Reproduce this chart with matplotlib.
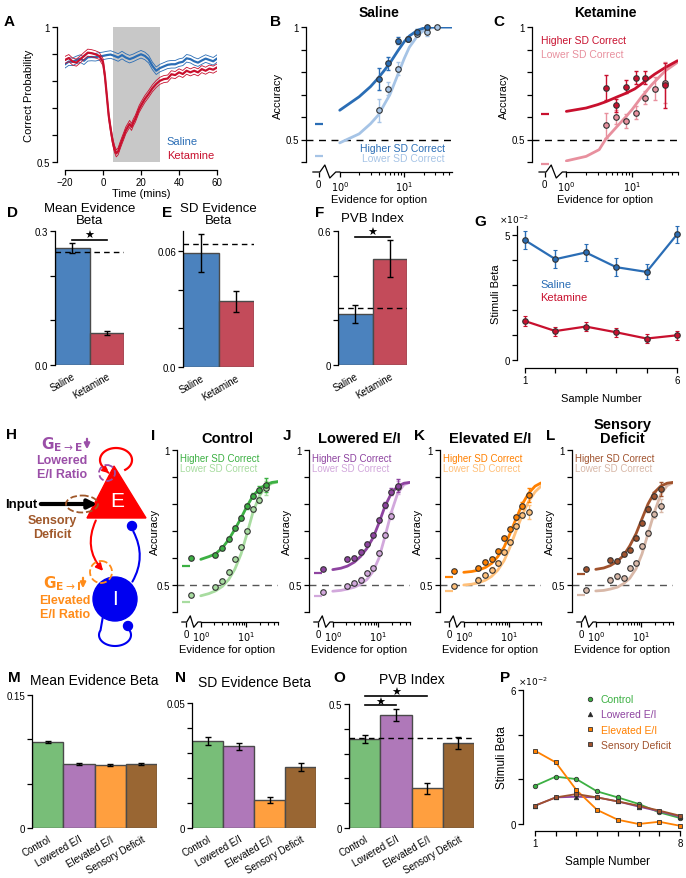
import numpy as np
import matplotlib
matplotlib.use('Agg')
import matplotlib.pyplot as plt
import matplotlib.transforms as mtransforms
from matplotlib.patches import Polygon, Circle, Ellipse, FancyArrowPatch
from matplotlib.lines import Line2D

plt.rcParams['font.family'] = ['Liberation Sans', 'DejaVu Sans']
plt.rcParams['font.size'] = 7.5
plt.rcParams['axes.linewidth'] = 0.9
plt.rcParams['xtick.direction'] = 'out'
plt.rcParams['ytick.direction'] = 'out'

# ---------------- data ----------------
# A: correct probability over time
A_sal_t = list(range(-20, 61, 2))
A_sal = [0.862, 0.872, 0.871, 0.878, 0.883, 0.875, 0.888, 0.889, 0.888, 0.891, 0.893,
         0.896, 0.898, 0.893, 0.887, 0.896, 0.887, 0.881, 0.886, 0.893, 0.899, 0.893,
         0.881, 0.856, 0.838, 0.848, 0.854, 0.860, 0.862, 0.862, 0.868, 0.871, 0.884,
         0.881, 0.873, 0.868, 0.876, 0.883, 0.878, 0.873, 0.883]
A_sal_sem = 0.014
A_ket_t = [-20, -18, -16, -14, -12, -10, -8, -6, -4, -2, 0, 1, 2, 3, 4, 5, 6, 7, 8, 9, 10,
           11, 12, 13, 14, 15, 16, 17, 18, 19, 20, 22, 24, 26, 28, 30, 32, 34, 36, 38, 40,
           42, 44, 46, 48, 50, 52, 54, 56, 58, 60]
A_ket = [0.878, 0.885, 0.872, 0.868, 0.880, 0.893, 0.905, 0.903, 0.899, 0.893, 0.870,
         0.819, 0.746, 0.672, 0.623, 0.580, 0.549, 0.532, 0.540, 0.561, 0.580, 0.598,
         0.617, 0.629, 0.641, 0.630, 0.647, 0.660, 0.678, 0.696, 0.709, 0.733, 0.752,
         0.773, 0.789, 0.801, 0.807, 0.809, 0.825, 0.822, 0.832, 0.826, 0.838, 0.832,
         0.838, 0.832, 0.844, 0.838, 0.846, 0.842, 0.850]
A_ket_sem = 0.013
A_window = (5, 30)

# B / C: psychometric curves (ketamine study)
B_hi_x = [4, 5.7, 8, 11.3, 16, 22.6]
B_hi = [0.768, 0.838, 0.94, 0.946, 0.98, 1.0]
B_hi_err = [0.05, 0.03, 0.015, 0.01, 0.01, 0.005]
B_lo_x = [4, 5.7, 8, 11.3, 16, 22.6, 32]
B_lo = [0.63, 0.726, 0.815, 0.946, 0.97, 0.976, 1.0]
B_lo_err = [0.05, 0.03, 0.03, 0.01, 0.01, 0.015, 0.005]
B_fit_x = [1, 2, 3, 4, 5, 6, 8, 10, 12, 16, 20, 25, 32, 40, 55]
B_fit_hi = [0.63, 0.69, 0.735, 0.775, 0.81, 0.84, 0.895, 0.935, 0.96, 0.985, 0.995, 1.0, 1.0, 1.0, 1.0]
B_fit_lo = [0.485, 0.525, 0.57, 0.61, 0.66, 0.70, 0.79, 0.86, 0.91, 0.96, 0.985, 0.995, 1.0, 1.0, 1.0]
B_zero = (0.571, 0.428)

C_hi_x = [4, 5.7, 8, 11.3, 16, 32]
C_hi = [0.73, 0.652, 0.735, 0.775, 0.775, 0.742]
C_hi_err = [0.055, 0.03, 0.03, 0.03, 0.03, 0.1]
C_lo_x = [4, 5.7, 8, 11.3, 16, 22.6, 32]
C_lo = [0.5625, 0.60, 0.582, 0.62, 0.686, 0.726, 0.753]
C_lo_err = [0.055, 0.03, 0.03, 0.03, 0.03, 0.05, 0.09]
C_fit_hi_x = [1, 2, 3, 4, 6, 8, 11, 16, 22, 32, 49]
C_fit_hi = [0.625, 0.64, 0.655, 0.668, 0.69, 0.705, 0.725, 0.76, 0.79, 0.82, 0.85]
C_fit_lo_x = [1, 2, 3.16, 4, 6, 8, 10, 14, 20, 32, 49]
C_fit_lo = [0.405, 0.425, 0.455, 0.503, 0.56, 0.60, 0.633, 0.69, 0.744, 0.805, 0.843]
C_zero = (0.612, 0.39)

# D / E / F: regression betas
drug_labels = ['Saline', 'Ketamine']
D_vals = [0.262, 0.072]
D_err = [0.012, 0.004]
D_ref = 0.253
E_vals = [0.059, 0.034]
E_err = [0.0097, 0.0053]
E_ref = 0.0639
F_vals = [0.228, 0.475]
F_err = [0.04, 0.083]
F_ref = 0.255

# G: stimuli beta per sample
G_samples = [1, 2, 3, 4, 5, 6]
G_sal = [0.048, 0.0404, 0.0431, 0.0372, 0.0353, 0.0503]
G_sal_err = [0.0037, 0.0035, 0.0035, 0.0035, 0.003, 0.0035]
G_ket = [0.0156, 0.0116, 0.0134, 0.0111, 0.0086, 0.0099]
G_ket_err = [0.002, 0.0018, 0.0018, 0.0018, 0.0018, 0.0018]

# I-L: model psychometric curves
ev_x = [2.1, 3.0, 4.1, 5.6, 7.7, 10.4, 14.1, 19.5, 26.8]
fit_x = [1.0, 1.5, 2.1, 3, 4.1, 5.6, 7.7, 10.4, 14.1, 19.5, 26.8, 37, 50]
I_hi = [0.612, 0.637, 0.671, 0.711, 0.748, 0.791, 0.831, 0.853, 0.87]
I_lo = [0.491, 0.516, 0.547, 0.596, 0.64, 0.70, 0.78, 0.815, 0.86]
I_fit_hi = [0.595, 0.605, 0.615, 0.638, 0.668, 0.706, 0.748, 0.792, 0.83, 0.856, 0.872, 0.88, 0.883]
I_fit_lo = [0.46, 0.468, 0.478, 0.495, 0.52, 0.558, 0.615, 0.69, 0.77, 0.83, 0.863, 0.877, 0.882]
I_zero = (0.60, 0.463, 0.57, 0.437)
J_hi = [0.596, 0.60, 0.623, 0.652, 0.686, 0.742, 0.796, 0.846, 0.868]
J_lo = [0.497, 0.506, 0.52, 0.544, 0.563, 0.618, 0.686, 0.757, 0.862]
J_fit_hi = [0.557, 0.562, 0.57, 0.585, 0.606, 0.635, 0.675, 0.73, 0.792, 0.84, 0.866, 0.877, 0.88]
J_fit_lo = [0.477, 0.48, 0.485, 0.492, 0.503, 0.52, 0.55, 0.6, 0.68, 0.77, 0.84, 0.872, 0.88]
J_zero = (0.559, 0.473, 0.544, 0.458)
K_hi = [0.562, 0.586, 0.596, 0.625, 0.674, 0.707, 0.751, 0.794, 0.833]
K_lo = [0.52, 0.538, 0.557, 0.581, 0.621, 0.66, 0.72, 0.76, 0.77]
K_fit_hi = [0.547, 0.55, 0.555, 0.565, 0.58, 0.605, 0.64, 0.69, 0.745, 0.80, 0.84, 0.866, 0.878]
K_fit_lo = [0.50, 0.503, 0.508, 0.518, 0.532, 0.555, 0.59, 0.64, 0.70, 0.76, 0.81, 0.845, 0.866]
K_zero = (0.551, 0.495, 0.528, 0.477)
L_hi = [0.593, 0.59, 0.615, 0.63, 0.674, 0.73, 0.781, 0.831, 0.856]
L_lo = [0.52, 0.532, 0.525, 0.562, 0.581, 0.643, 0.693, 0.762, 0.794]
L_fit_hi = [0.558, 0.563, 0.572, 0.588, 0.61, 0.645, 0.69, 0.745, 0.80, 0.843, 0.866, 0.877, 0.88]
L_fit_lo = [0.478, 0.48, 0.485, 0.492, 0.505, 0.525, 0.56, 0.615, 0.69, 0.77, 0.835, 0.868, 0.879]
L_zero = (0.559, 0.483, 0.54, 0.464)
model_err = [0.008, 0.008, 0.008, 0.008, 0.008, 0.008, 0.01, 0.012, 0.025]

# M / N / O: model betas
cond_labels = ['Control', 'Lowered E/I', 'Elevated E/I', 'Sensory Deficit']
M_vals = [0.097, 0.072, 0.0709, 0.072]
M_err = [0.001, 0.001, 0.001, 0.001]
N_vals = [0.0347, 0.0327, 0.0112, 0.0245]
N_err = [0.0016, 0.0014, 0.0013, 0.0016]
O_vals = [0.358, 0.456, 0.16, 0.342]
O_err = [0.017, 0.025, 0.023, 0.024]
O_ref = 0.361

# P: model stimuli beta per sample
P_samples = [1, 2, 3, 4, 5, 6, 7, 8]
P_control = [0.0171, 0.0212, 0.0201, 0.0146, 0.0119, 0.0090, 0.0052, 0.0027]
P_lowered = [0.0082, 0.0119, 0.0122, 0.0119, 0.0101, 0.0078, 0.0057, 0.0033]
P_elevated = [0.0328, 0.0276, 0.0152, 0.0063, 0.0019, 0.0, 0.0010, -0.0008]
P_sensory = [0.0082, 0.0119, 0.0134, 0.0119, 0.0101, 0.0082, 0.0060, 0.0037]

# ---------------- colours ----------------
sal_c, sal_light = '#2a6db5', '#a6c4e6'
ket_c, ket_light = '#c8102e', '#e8909e'
bar_sal, bar_ket = '#4b82be', '#c34b5a'
ctl_c, ctl_light = '#3cb043', '#a8dca0'
low_c, low_light = '#8e44a0', '#d2a8dc'
ele_c, ele_light = '#ff8000', '#ffc07a'
sen_c, sen_light = '#a0522d', '#d8b8a8'
cond_bar_colors = ['#78be78', '#af78b9', '#ff9f3f', '#996633']

W, H = 686, 879
fig = plt.figure(figsize=(W / 100, H / 100), dpi=100)


def px_axes(x0, y0, x1, y1):
    return fig.add_axes([x0 / W, 1 - y1 / H, (x1 - x0) / W, (y1 - y0) / H])


def style(ax, out_left=0, out_bottom=0):
    ax.spines['top'].set_visible(False)
    ax.spines['right'].set_visible(False)
    if out_left:
        ax.spines['left'].set_position(('outward', out_left * 0.72))
    if out_bottom:
        ax.spines['bottom'].set_position(('outward', out_bottom * 0.72))
    ax.tick_params(length=3.5, width=0.9, labelsize=7, pad=1.5)
    ax.patch.set_alpha(0)


def letter(x, y, s):
    fig.text(x / W, 1 - y / H, s, fontsize=11, weight='bold', va='center', ha='left')


def psycho(ax, h_px, decade_px, xmax, hi_x, hi, hi_err, lo_x, lo, lo_err,
           fhx, fhi, flx, flo, zero, c_hi, c_lo, ref_c, zero_pts=False):
    ax.set_xscale('log')
    ax.set_xlim(0.3, xmax)
    ax.set_ylim(0.4, 1.0)
    style(ax)
    ax.axhline(0.5, color=ref_c, lw=1.0, dashes=(5, 4), zorder=1)
    ax.plot(flx, flo, color=c_lo, lw=2.0, zorder=2, solid_capstyle='round')
    ax.plot(fhx, fhi, color=c_hi, lw=2.0, zorder=2, solid_capstyle='round')
    ax.errorbar(lo_x, lo, yerr=lo_err, fmt='none', ecolor=c_lo, elinewidth=1, capsize=1.5, zorder=3)
    ax.errorbar(hi_x, hi, yerr=hi_err, fmt='none', ecolor=c_hi, elinewidth=1, capsize=1.5, zorder=3)
    ax.plot(lo_x, lo, 'o', ms=4, mfc=c_lo, mec='#333333', mew=0.8, zorder=4, clip_on=False)
    ax.plot(hi_x, hi, 'o', ms=4, mfc=c_hi, mec='#333333', mew=0.8, zorder=5, clip_on=False)
    x0 = 0.47
    if zero_pts:
        ax.plot([x0 * 1.3], [zero[0]], 'o', ms=4, mfc=c_hi, mec='#333333', mew=0.8, clip_on=False)
        ax.plot([x0 * 1.3], [zero[1]], 'o', ms=4, mfc=c_lo, mec='#333333', mew=0.8, clip_on=False)
        d_hi, d_lo = zero[2], zero[3]
    else:
        d_hi, d_lo = zero[0], zero[1]
    ax.plot([x0], [d_hi], marker='_', ms=6, mew=1.6, color=c_hi, clip_on=False)
    ax.plot([x0], [d_lo], marker='_', ms=6, mew=1.6, color=c_lo, clip_on=False)
    # broken x axis
    off = 10
    ax.spines['bottom'].set_position(('outward', off * 0.72))
    ax.spines['bottom'].set_bounds(1.0, xmax)
    sc = decade_px / 65.0
    zx = 10 ** (np.array([-27, -20, -15, -10, -4, 0]) * sc / decade_px)
    zy = np.array([0, 0, 7, -6, 0, 0]) * (0.6 + 0.4 * sc) / h_px
    tr = ax.get_xaxis_transform() + mtransforms.ScaledTranslation(0, -off / 100, fig.dpi_scale_trans)
    ax.plot(zx, zy, color='black', lw=0.9, transform=tr, clip_on=False)
    ax.set_xticks([x0, 1, 10])
    ax.set_xticklabels(['0', '$10^0$', '$10^1$'])
    minors = [m for m in [2, 3, 4, 5, 6, 7, 8, 9, 20, 30, 40, 50] if m <= xmax]
    ax.set_xticks(minors, minor=True)
    ax.set_xticklabels([], minor=True)
    ax.tick_params(axis='x', which='minor', length=2, width=0.8)
    ax.set_yticks([0.4, 0.5, 0.6, 0.7, 0.8, 0.9, 1.0])
    ax.set_yticklabels(['', '0.5', '', '', '', '', '1'])
    ax.set_xlabel('Evidence for option', fontsize=8, labelpad=1)
    ax.set_ylabel('Accuracy', fontsize=8, labelpad=2)


# ---------------- A ----------------
axA = px_axes(65, 28, 217, 163)
style(axA, out_left=8, out_bottom=8)
axA.axvspan(A_window[0], A_window[1], color='#c8c8c8', lw=0, zorder=0)
for t, v, s, c in [(A_sal_t, A_sal, A_sal_sem, sal_c), (A_ket_t, A_ket, A_ket_sem, ket_c)]:
    v = np.array(v)
    axA.plot(t, v + s, color=c, lw=0.6)
    axA.plot(t, v - s, color=c, lw=0.6)
    axA.plot(t, v, color=c, lw=1.6)
axA.set_xlim(-20, 60)
axA.set_ylim(0.5, 1.0)
axA.set_xticks([-20, 0, 20, 40, 60])
axA.set_yticks([0.5, 0.6, 0.7, 0.8, 0.9, 1.0])
axA.set_yticklabels(['0.5', '', '', '', '', '1'])
axA.set_xlabel('Time (mins)', fontsize=8, labelpad=1)
axA.set_ylabel('Correct Probability', fontsize=8, labelpad=2)
axA.text(0.67, 0.13, 'Saline', color=sal_c, fontsize=8, transform=axA.transAxes)
axA.text(0.67, 0.03, 'Ketamine', color=ket_c, fontsize=8, transform=axA.transAxes)
letter(4, 22, 'A')

# ---------------- B ----------------
axB = px_axes(306, 28, 452, 163)
psycho(axB, 135, 65, 55, B_hi_x, B_hi, B_hi_err, B_lo_x, B_lo, B_lo_err,
       B_fit_x, B_fit_hi, B_fit_x, B_fit_lo, B_zero, sal_c, sal_light, 'black')
axB.set_title('Saline', fontsize=10, weight='bold', pad=8)
axB.text(0.95, 0.085, 'Higher SD Correct', color=sal_c, fontsize=7.5, ha='right', transform=axB.transAxes)
axB.text(0.95, 0.005, 'Lower SD Correct', color=sal_light, fontsize=7.5, ha='right', transform=axB.transAxes)
letter(270, 22, 'B')

# ---------------- C ----------------
axC = px_axes(532, 28, 678, 163)
psycho(axC, 135, 65, 50, C_hi_x, C_hi, C_hi_err, C_lo_x, C_lo, C_lo_err,
       C_fit_hi_x, C_fit_hi, C_fit_lo_x, C_fit_lo, C_zero, ket_c, ket_light, 'black')
axC.set_title('Ketamine', fontsize=10, weight='bold', pad=8)
axC.text(0.06, 0.88, 'Higher SD Correct', color=ket_c, fontsize=7.5, transform=axC.transAxes)
axC.text(0.06, 0.78, 'Lower SD Correct', color=ket_light, fontsize=7.5, transform=axC.transAxes)
letter(493, 22, 'C')


# ---------------- bar helper ----------------
def bars(ax, vals, errs, colors, labels, ylim, yticks, ylabels, rot=30, lsize=7):
    x = np.arange(len(vals))
    ax.bar(x, vals, width=1.0, color=colors, edgecolor='#4a4a4a', linewidth=1.0, zorder=2)
    ax.errorbar(x, vals, yerr=errs, fmt='none', ecolor='black', elinewidth=1.0, capsize=2.5,
                capthick=1.0, zorder=3)
    style(ax)
    ax.spines['bottom'].set_visible(False)
    ax.set_xlim(-0.5, len(vals) - 0.5)
    ax.set_ylim(*ylim)
    ax.set_yticks(yticks)
    ax.set_yticklabels(ylabels)
    ax.set_xticks(x)
    ax.set_xticklabels(labels, rotation=rot, ha='right', rotation_mode='anchor', fontsize=lsize)
    ax.tick_params(axis='x', length=0, pad=4)


def sig(ax, x0, x1, y, ystar):
    ax.plot([x0, x1], [y, y], color='black', lw=1.2, clip_on=False)
    ax.text((x0 + x1) / 2, ystar, '★', ha='center', va='center', fontsize=8,
            family='DejaVu Sans', clip_on=False)


# ---------------- D ----------------
axD = px_axes(55, 232, 124, 366)
bars(axD, D_vals, D_err, [bar_sal, bar_ket], drug_labels, (0, 0.3), [0, 0.1, 0.2, 0.3],
     ['0.0', '', '', '0.3'])
axD.axhline(D_ref, color='black', lw=1.0, dashes=(4, 3), zorder=4)
sig(axD, 0.0, 1.0, 0.28, 0.292)
axD.set_title('Mean Evidence\nBeta', fontsize=9.5, pad=6, linespacing=1.0)
letter(7, 213, 'D')

# ---------------- E ----------------
axE = px_axes(183, 232, 254, 368)
bars(axE, E_vals, E_err, [bar_sal, bar_ket], drug_labels, (0, 0.0705), [0, 0.02, 0.04, 0.06],
     ['0.0', '', '', '0.06'])
axE.axhline(E_ref, color='black', lw=1.0, dashes=(4, 3), zorder=4)
axE.set_title('SD Evidence\nBeta', fontsize=9.5, pad=6, linespacing=1.0)
letter(162, 213, 'E')

# ---------------- F ----------------
axF = px_axes(338, 232, 407, 366)
bars(axF, F_vals, F_err, [bar_sal, bar_ket], drug_labels, (0, 0.6), [0, 0.2, 0.4, 0.6],
     ['0', '', '', '0.6'])
axF.axhline(F_ref, color='black', lw=1.0, dashes=(4, 3), zorder=4)
sig(axF, 0.0, 1.0, 0.575, 0.595)
axF.set_title('PVB Index', fontsize=9.5, pad=7)
letter(315, 213, 'F')

# ---------------- G ----------------
axG = px_axes(525, 227, 677, 361)
style(axG, out_left=8, out_bottom=8)
axG.errorbar(G_samples, G_sal, yerr=G_sal_err, color=sal_c, lw=1.6, ecolor=sal_c, elinewidth=1,
             capsize=1.5, marker='o', ms=4, mfc=sal_c, mec='#333333', mew=0.8, clip_on=False)
axG.errorbar(G_samples, G_ket, yerr=G_ket_err, color=ket_c, lw=1.6, ecolor=ket_c, elinewidth=1,
             capsize=1.5, marker='o', ms=4, mfc=ket_c, mec='#333333', mew=0.8, clip_on=False)
axG.set_xlim(1, 6)
axG.set_ylim(0, 0.0537)
axG.set_xticks(G_samples)
axG.set_xticklabels(['1', '', '', '', '', '6'])
axG.set_yticks([0, 0.01, 0.02, 0.03, 0.04, 0.05])
axG.set_yticklabels(['0', '', '', '', '', '5'])
axG.set_xlabel('Sample Number', fontsize=8, labelpad=6)
axG.set_ylabel('Stimuli Beta', fontsize=8, labelpad=3)
axG.text(0.1, 0.567, 'Saline', color=sal_c, fontsize=8, va='center', transform=axG.transAxes)
axG.text(0.1, 0.47, 'Ketamine', color=ket_c, fontsize=8, va='center', transform=axG.transAxes)
fig.text(499 / W, 1 - 220 / H, r'$\times10^{-2}$', fontsize=6.5, va='center')
letter(474, 222, 'G')

# ---------------- H (circuit) ----------------
axH = px_axes(0, 425, 170, 660)
axH.set_xlim(0, 170)
axH.set_ylim(660, 425)
axH.axis('off')
purple, brown, orange = '#9b4fa8', '#a0582a', '#ff8c1a'
red, blue = '#ff0000', '#0000f0'
axH.add_patch(Polygon([(114, 467), (87, 519), (146, 519)], closed=True, color=red, zorder=2))
axH.text(117, 502, 'E', color='white', fontsize=15, ha='center', va='center', zorder=3)
th = np.radians(np.linspace(-55, 232, 80))
axH.plot(116 + 16 * np.cos(th), 461 - 12 * np.sin(th), color=red, lw=1.6)
axH.annotate('', xy=(111, 476), xytext=(106.5, 472),
             arrowprops=dict(arrowstyle='-|>', color=red, lw=1.4, mutation_scale=9))
axH.add_patch(Circle((107, 474), 8, fill=False, ls='--', ec=purple, lw=1.3, zorder=4))
axH.text(5, 505, 'Input', fontsize=9.5, weight='bold', va='center')
axH.annotate('', xy=(100, 505), xytext=(38, 505),
             arrowprops=dict(arrowstyle='-|>', color='black', lw=3, mutation_scale=13))
axH.add_patch(Ellipse((82, 505), 32, 17, fill=False, ls='--', ec=brown, lw=1.3, zorder=4))
axH.text(52, 521, 'Sensory', color=brown, fontsize=9, weight='bold', ha='center', va='center')
axH.text(52, 535, 'Deficit', color=brown, fontsize=9, weight='bold', ha='center', va='center')
axH.text(62, 445, r'$\mathbf{G}_{\mathbf{E}\rightarrow\mathbf{E}}$', color=purple, fontsize=11,
         ha='center', va='center')
axH.annotate('', xy=(87, 453), xytext=(87, 437),
             arrowprops=dict(arrowstyle='-|>', color=purple, lw=1.6, mutation_scale=8))
axH.text(62, 461, 'Lowered', color=purple, fontsize=9, weight='bold', ha='center', va='center')
axH.text(62, 475, 'E/I Ratio', color=purple, fontsize=9, weight='bold', ha='center', va='center')
axH.add_patch(FancyArrowPatch((97, 519), (105, 574), connectionstyle='arc3,rad=0.35',
                              arrowstyle='-|>', color=red, lw=1.5, mutation_scale=10, zorder=3))
axH.add_patch(Circle((101, 573), 11, fill=False, ls='--', ec=orange, lw=1.3, zorder=4))
axH.add_patch(Circle((115, 600), 22, color=blue, zorder=2))
axH.text(115, 600, 'I', color='white', fontsize=15, ha='center', va='center', zorder=3)
axH.add_patch(FancyArrowPatch((131, 585), (132, 530), connectionstyle='arc3,rad=0.3',
                              arrowstyle='-', color=blue, lw=1.5, zorder=1))
axH.add_patch(Circle((132, 527), 4.5, color=blue, zorder=2))
th2 = np.radians(np.linspace(205, -35, 80))
lx = np.concatenate([[103], 115 + 16 * np.cos(th2)])
ly = np.concatenate([[617], 636 + 11 * np.sin(th2)])
axH.plot(lx, ly, color=blue, lw=1.5, zorder=1)
axH.add_patch(Circle((128, 627), 4.5, color=blue, zorder=2))
axH.text(62, 584, r'$\mathbf{G}_{\mathbf{E}\rightarrow\mathbf{I}}$', color=orange, fontsize=11,
         ha='center', va='center')
axH.annotate('', xy=(83, 592), xytext=(83, 576),
             arrowprops=dict(arrowstyle='-|>', color=orange, lw=1.6, mutation_scale=8))
axH.text(65, 601, 'Elevated', color=orange, fontsize=9, weight='bold', ha='center', va='center')
axH.text(65, 615, 'E/I Ratio', color=orange, fontsize=9, weight='bold', ha='center', va='center')
letter(6, 435, 'H')

# ---------------- I-L ----------------
model_panels = [
    (177, 'I', 'Control', I_hi, I_lo, I_fit_hi, I_fit_lo, I_zero, ctl_c, ctl_light),
    (309, 'J', 'Lowered E/I', J_hi, J_lo, J_fit_hi, J_fit_lo, J_zero, low_c, low_light),
    (440, 'K', 'Elevated E/I', K_hi, K_lo, K_fit_hi, K_fit_lo, K_zero, ele_c, ele_light),
    (572, 'L', 'Sensory\nDeficit', L_hi, L_lo, L_fit_hi, L_fit_lo, L_zero, sen_c, sen_light),
]
for x0, let, title, hi, lo, fhi, flo, zero, ch, cl in model_panels:
    ax = px_axes(x0, 451, x0 + 101, 613)
    psycho(ax, 162, 45.5, 50, ev_x, hi, model_err, ev_x, lo, model_err,
           fit_x, fhi, fit_x, flo, zero, ch, cl, '#555555', zero_pts=True)
    ax.set_title(title, fontsize=10.5, weight='bold', pad=6, linespacing=0.95)
    ax.yaxis.set_label_coords(-0.17, 0.5)
    ax.text(0.03, 0.935, 'Higher SD Correct', color=ch, fontsize=7, transform=ax.transAxes)
    ax.text(0.03, 0.87, 'Lower SD Correct', color=cl, fontsize=7, transform=ax.transAxes)
    letter(x0 - 26, 436, let)

# ---------------- M / N / O ----------------
axM = px_axes(32, 696, 157, 829)
bars(axM, M_vals, M_err, cond_bar_colors, cond_labels, (0, 0.15), [0, 0.05, 0.1, 0.15],
     ['0', '', '', '0.15'])
axM.set_title('Mean Evidence Beta', fontsize=10, pad=8)
letter(8, 678, 'M')

axN = px_axes(192, 704, 316, 829)
bars(axN, N_vals, N_err, cond_bar_colors, cond_labels, (0, 0.05),
     [0, 0.01, 0.02, 0.03, 0.04, 0.05], ['0', '', '', '', '', '0.05'])
axN.set_title('SD Evidence Beta', fontsize=10, pad=12)
letter(175, 678, 'N')

axO = px_axes(349, 705, 474, 829)
bars(axO, O_vals, O_err, cond_bar_colors, cond_labels, (0, 0.5),
     [0, 0.1, 0.2, 0.3, 0.4, 0.5], ['0', '', '', '', '', '0.5'])
axO.axhline(O_ref, color='black', lw=1.0, dashes=(4, 3), zorder=4)
sig(axO, 0.0, 1.0, 0.495, 0.51)
sig(axO, 0.0, 2.0, 0.532, 0.548)
axO.set_title('PVB Index', fontsize=10, pad=15)
letter(333, 678, 'O')

# ---------------- P ----------------
axP = px_axes(535, 691, 680, 825)
style(axP, out_left=12, out_bottom=7)
series = [
    ('Control', P_control, ctl_c, 'o', ctl_c),
    ('Lowered E/I', P_lowered, low_c, '^', '#222222'),
    ('Elevated E/I', P_elevated, ele_c, 's', ele_c),
    ('Sensory Deficit', P_sensory, sen_c, 's', sen_c),
]
handles = []
for name, vals, c, mk, fc in series:
    axP.plot(P_samples, vals, color=c, lw=1.3, marker=mk, ms=3.2, mfc=fc, mec='#333333',
             mew=0.6, clip_on=False)
    handles.append(Line2D([], [], ls='none', marker=mk, ms=3.2, mfc=fc, mec='#333333', mew=0.6))
axP.set_xlim(1, 8)
axP.set_ylim(0, 0.06)
axP.set_xticks(P_samples)
axP.set_xticklabels(['1', '', '', '', '', '', '', '8'])
axP.set_yticks([0, 0.02, 0.04, 0.06])
axP.set_yticklabels(['0', '', '', '6'])
axP.set_xlabel('Sample Number', fontsize=8.5, labelpad=5)
axP.set_ylabel('Stimuli Beta', fontsize=8.5, labelpad=2)
leg = axP.legend(handles, [s[0] for s in series], loc='upper left', bbox_to_anchor=(0.33, 1.0),
                 frameon=False, fontsize=7.5, handlelength=0.6, handletextpad=0.7,
                 labelspacing=0.5, borderaxespad=0)
for txt, s in zip(leg.get_texts(), series):
    txt.set_color(s[2])
fig.text(518 / W, 1 - 682 / H, r'$\times10^{-2}$', fontsize=6.5, va='center')
letter(500, 678, 'P')

fig.savefig('out.png', dpi=100)
